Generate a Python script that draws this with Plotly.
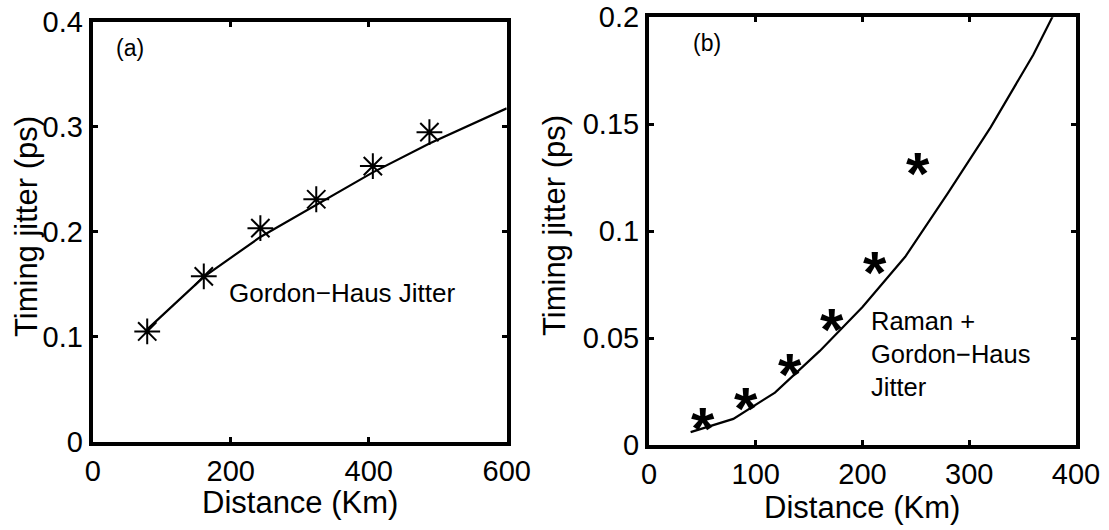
import plotly.graph_objects as go

# ---- data -------------------------------------------------------------
# (a) Gordon-Haus timing jitter
dist_a_meas = [79, 161, 243, 324, 406, 488]
jitter_a_meas = [0.105, 0.1575, 0.2034, 0.2309, 0.2625, 0.2948]
dist_a_theory = [79, 161, 243, 324, 406, 488, 545, 600]
jitter_a_theory = [0.107, 0.157, 0.195, 0.2255, 0.2565, 0.284, 0.301, 0.3175]

# (b) Raman + Gordon-Haus timing jitter
dist_b_meas = [51, 91, 132, 171, 212, 252]
jitter_b_meas = [0.012, 0.0214, 0.037, 0.0583, 0.0849, 0.131]
dist_b_theory = [39, 79, 118, 160, 200, 240, 280, 320, 360, 400]
jitter_b_theory = [0.006, 0.0122, 0.0245, 0.044, 0.0645, 0.088, 0.1178,
                   0.1485, 0.1825, 0.222]

# tick values / labels
xticks_a = [0, 200, 400, 600]
xtick_text_a = ["0", "200", "400", "600"]
yticks_a = [0, 0.1, 0.2, 0.3, 0.4]
ytick_text_a = ["0", "0.1", "0.2", "0.3", "0.4"]
xticks_b = [0, 100, 200, 300, 400]
xtick_text_b = ["0", "100", "200", "300", "400"]
yticks_b = [0, 0.05, 0.1, 0.15, 0.2]
ytick_text_b = ["0", "0.05", "0.1", "0.15", "0.2"]

# ---- styling -------------------------------------------------------------
W, H = 1109, 530
FONT = "Liberation Sans, Arial, Helvetica, sans-serif"


def px_x(p):
    return p / W


def px_y(p):
    return 1 - p / H


fig = go.Figure()

# panel (a)
fig.add_trace(go.Scatter(
    x=dist_a_theory, y=jitter_a_theory, mode="lines",
    line=dict(color="black", width=2.2), xaxis="x", yaxis="y",
    showlegend=False, hoverinfo="skip"))
fig.add_trace(go.Scatter(
    x=dist_a_meas, y=jitter_a_meas, mode="markers",
    marker=dict(symbol="asterisk-open", size=21.5, color="black",
                line=dict(color="black", width=2)),
    xaxis="x", yaxis="y", showlegend=False, cliponaxis=False))

# panel (b)
fig.add_trace(go.Scatter(
    x=dist_b_theory, y=jitter_b_theory, mode="lines",
    line=dict(color="black", width=2.2), xaxis="x2", yaxis="y2",
    showlegend=False, hoverinfo="skip"))

axis_common = dict(
    showline=True, linecolor="black", linewidth=4, mirror="allticks",
    ticks="inside", ticklen=5, tickwidth=2.5, tickcolor="black",
    showgrid=False, zeroline=False, automargin=False,
    tickfont=dict(family=FONT, size=29, color="black"),
)

fig.update_layout(
    width=W, height=H,
    margin=dict(l=0, r=0, t=0, b=0),
    paper_bgcolor="white", plot_bgcolor="white",
    font=dict(family=FONT, color="black"),
    xaxis=dict(axis_common, domain=[px_x(92.7), px_x(506.7)], range=[0, 600],
               tickvals=xticks_a, ticktext=xtick_text_a, anchor="y"),
    yaxis=dict(axis_common, domain=[px_y(441.7), px_y(21.7)], range=[0, 0.4],
               tickvals=yticks_a, ticktext=ytick_text_a, anchor="x"),
    xaxis2=dict(axis_common, domain=[px_x(649), px_x(1076)], range=[0, 400],
                tickvals=xticks_b, ticktext=xtick_text_b, anchor="y2"),
    yaxis2=dict(axis_common, domain=[px_y(445), px_y(17.3)], range=[0, 0.2],
                tickvals=yticks_b, ticktext=ytick_text_b, anchor="x2"),
)

annotations = []

# bold asterisk markers of panel (b)
for xv, yv in zip(dist_b_meas, jitter_b_meas):
    annotations.append(dict(
        x=xv, y=yv, xref="x2", yref="y2", text="*", showarrow=False,
        font=dict(family=FONT, size=60, color="black", weight="bold"),
        xanchor="center", yanchor="middle", yshift=-9))

# panel labels and curve captions
annotations += [
    dict(x=54, y=0.375, xref="x", yref="y", text="(a)", showarrow=False,
         font=dict(family=FONT, size=23), xanchor="center", yanchor="middle"),
    dict(x=194, y=0.142, xref="x", yref="y", text="Gordon\u2212Haus Jitter",
         showarrow=False, font=dict(family=FONT, size=26),
         xanchor="left", yanchor="middle"),
    dict(x=54, y=0.188, xref="x2", yref="y2", text="(b)", showarrow=False,
         font=dict(family=FONT, size=23), xanchor="center", yanchor="middle"),
    dict(x=206, y=0.0427, xref="x2", yref="y2",
         text="Raman +<br>Gordon\u2212Haus<br>Jitter", showarrow=False,
         font=dict(family=FONT, size=25.5), xanchor="left", yanchor="middle",
         align="left"),
]

# axis titles
for cx, cy in [(26.7, 226.3), (554, 226)]:
    annotations.append(dict(
        x=px_x(cx), y=px_y(cy), xref="paper", yref="paper",
        text="Timing jitter (ps)", textangle=-90, showarrow=False,
        font=dict(family=FONT, size=31), xanchor="center", yanchor="middle"))
for cx, cy in [(300, 502), (862, 507.5)]:
    annotations.append(dict(
        x=px_x(cx), y=px_y(cy), xref="paper", yref="paper",
        text="Distance (Km)", showarrow=False,
        font=dict(family=FONT, size=31), xanchor="center", yanchor="middle"))

fig.update_layout(annotations=annotations)

fig.write_html("out.html")
